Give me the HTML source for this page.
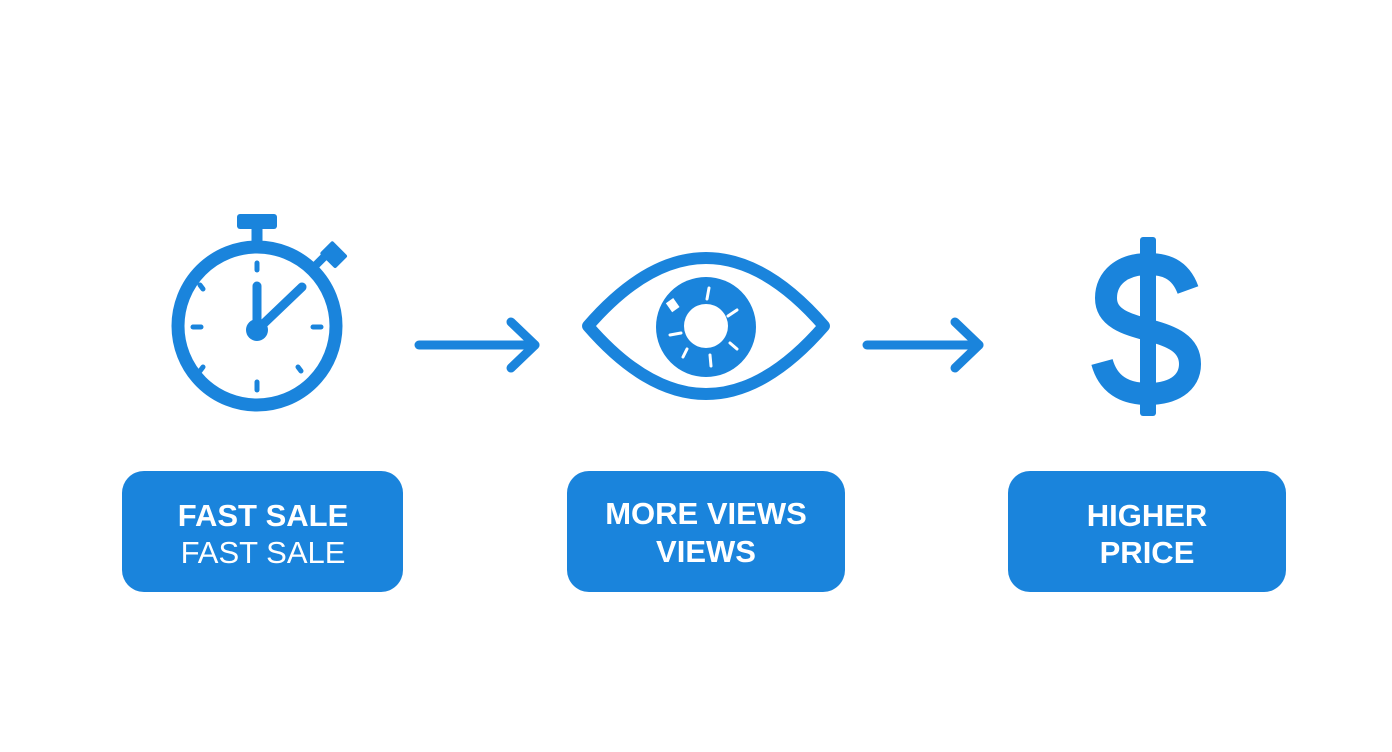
<!DOCTYPE html>
<html><head><style>
html,body{margin:0;padding:0;background:#fff;}
svg{display:block}
</style></head><body>
<svg width="1392" height="752" viewBox="0 0 1392 752" xmlns="http://www.w3.org/2000/svg">
<rect width="1392" height="752" fill="#fff"/>
<g fill="none" stroke="#1a84dc" stroke-linecap="round">
  <!-- stopwatch -->
  <circle cx="257" cy="326" r="79" stroke-width="13"/>
  <line x1="257" y1="228" x2="257" y2="246" stroke-width="11" stroke-linecap="butt"/>
  <line x1="309" y1="272" x2="324" y2="257" stroke-width="8" stroke-linecap="butt"/>
  <line x1="257" y1="330" x2="257" y2="286" stroke-width="9"/>
  <line x1="257" y1="330" x2="302" y2="287" stroke-width="9"/>
  <g stroke-width="5">
    <line x1="257" y1="263" x2="257" y2="270"/>
    <line x1="257" y1="382" x2="257" y2="390"/>
    <line x1="193" y1="327" x2="201" y2="327"/>
    <line x1="313" y1="327" x2="321" y2="327"/>
    <line x1="200" y1="285" x2="203" y2="289"/>
    <line x1="200" y1="371" x2="203" y2="367"/>
    <line x1="298" y1="367" x2="301" y2="371"/>
  </g>
  <!-- arrows -->
  <g stroke-width="9" stroke-linejoin="round">
    <line x1="419" y1="345" x2="535" y2="345"/>
    <polyline points="511,322 535,345 511,368"/>
    <line x1="867" y1="345" x2="979" y2="345"/>
    <polyline points="955,322 979,345 955,368"/>
  </g>
  <!-- eye -->
  <path d="M588 326 Q706 190 824 326 Q706 462 588 326 Z" stroke-width="12" stroke-linejoin="round"/>
  <!-- dollar -->
  <path d="M1188 290 C1180 268 1164 264 1148 264 C1122 264 1106 278 1106 298 C1106 318 1126 324 1148 330 C1172 336 1190 344 1190 364 C1190 384 1172 394 1148 394 C1124 394 1108 384 1102 362" stroke-width="22" stroke-linecap="butt"/>
</g>
<g fill="#1a84dc">
  <rect x="237" y="214" width="40" height="15" rx="3"/>
  <rect x="-9" y="-10" width="18" height="22" rx="2" transform="translate(333,254) rotate(-45)"/>
  <circle cx="257" cy="330" r="11"/>
  <circle cx="706" cy="327" r="50"/>
  <rect x="1140" y="237" width="16" height="179" rx="3"/>
  <rect x="122" y="471" width="281" height="121" rx="22"/>
  <rect x="567" y="471" width="278" height="121" rx="22"/>
  <rect x="1008" y="471" width="278" height="121" rx="22"/>
</g>
<circle cx="706" cy="326" r="22" fill="#fff"/>
<g stroke="#fff" stroke-width="3" stroke-linecap="round">
  <line x1="709" y1="288" x2="707" y2="299"/>
  <line x1="737" y1="310" x2="728" y2="316"/>
  <line x1="670" y1="335" x2="681" y2="333"/>
  <line x1="683" y1="357" x2="687" y2="349"/>
  <line x1="711" y1="366" x2="710" y2="355"/>
  <line x1="737" y1="349" x2="730" y2="343"/>
</g>
<rect x="668" y="300" width="9" height="11" fill="#fff" transform="rotate(-35 672 305)"/>
<g fill="#fff" font-family="Liberation Sans, sans-serif" font-weight="bold" text-anchor="middle" font-size="31">
  <text x="263" y="526">FAST SALE</text>
  <text x="263" y="563" font-weight="normal">FAST SALE</text>
  <text x="706" y="524">MORE VIEWS</text>
  <text x="706" y="562">VIEWS</text>
  <text x="1147" y="526">HIGHER</text>
  <text x="1147" y="563">PRICE</text>
</g>
</svg>
</body></html>
